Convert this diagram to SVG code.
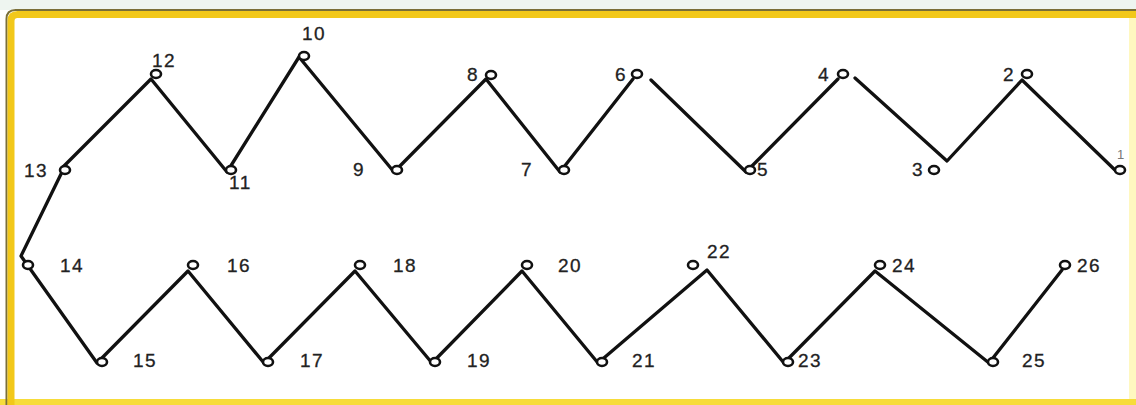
<svg xmlns="http://www.w3.org/2000/svg" width="1136" height="405" viewBox="0 0 1136 405">
<style>
.lbl{font-family:"Liberation Sans",Arial,sans-serif;font-size:19px;fill:#222;letter-spacing:1.5px;stroke:#222;stroke-width:0.3}
.sm{font-size:13px;fill:#777;stroke:none}
.node ellipse{fill:#fff;stroke:#111;stroke-width:2.6}
.edges polyline{stroke:#111;stroke-width:3.3;fill:none;stroke-linecap:round;stroke-linejoin:round}
</style>
<rect x="0" y="0" width="1136" height="405" fill="#ffffff"/>
<rect x="0" y="0" width="1136" height="10" fill="#eef5f0"/>
<rect x="1129" y="18" width="7" height="382" fill="#fff8c0"/>
<rect x="0" y="399" width="1136" height="6" fill="#f7dc3a"/>
<path d="M6.5 405 V19 Q6.5 10 15.5 10 H1136" fill="none" stroke="#7a6f38" stroke-width="2"/>
<path d="M11 405 V21 Q11 14.5 17.5 14.5 H1136" fill="none" stroke="#f2c81a" stroke-width="7"/>
<g class="edges">
<polyline points="62,168 151,79 227,172 299,57 394,172 486,79 560,172 633,79"/>
<polyline points="651,80 746,172 838,79"/>
<polyline points="855,78 947,161 1022,80 1117,172"/>
<polyline points="62,172 21,256 97,363 188,271 264,363 355,271 432,363 522,271 598,363 707,270 784,363 875,271 989,363 1062,270"/>
</g>
<g id="n1" class="node"><ellipse cx="1120" cy="170" rx="5" ry="4"/><text class="lbl sm" x="1117" y="159">1</text></g>
<g id="n2" class="node"><ellipse cx="1027" cy="74" rx="5" ry="4"/><text class="lbl" x="1003" y="81">2</text></g>
<g id="n3" class="node"><ellipse cx="934" cy="170" rx="5" ry="4"/><text class="lbl" x="912" y="176">3</text></g>
<g id="n4" class="node"><ellipse cx="843" cy="74" rx="5" ry="4"/><text class="lbl" x="818" y="81">4</text></g>
<g id="n5" class="node"><ellipse cx="750" cy="170" rx="5" ry="4"/><text class="lbl" x="757" y="176">5</text></g>
<g id="n6" class="node"><ellipse cx="637" cy="74" rx="5" ry="4"/><text class="lbl" x="615" y="81">6</text></g>
<g id="n7" class="node"><ellipse cx="564" cy="170" rx="5" ry="4"/><text class="lbl" x="521" y="176">7</text></g>
<g id="n8" class="node"><ellipse cx="491" cy="75" rx="5" ry="4"/><text class="lbl" x="467" y="81">8</text></g>
<g id="n9" class="node"><ellipse cx="397" cy="170" rx="5" ry="4"/><text class="lbl" x="353" y="176">9</text></g>
<g id="n10" class="node"><ellipse cx="304" cy="56" rx="5" ry="4"/><text class="lbl" x="302" y="40">10</text></g>
<g id="n11" class="node"><ellipse cx="231" cy="170" rx="5" ry="4"/><text class="lbl" x="229" y="189">11</text></g>
<g id="n12" class="node"><ellipse cx="156" cy="74" rx="5" ry="4"/><text class="lbl" x="152" y="67">12</text></g>
<g id="n13" class="node"><ellipse cx="65" cy="170" rx="5" ry="4"/><text class="lbl" x="24" y="177">13</text></g>
<g id="n14" class="node"><ellipse cx="28" cy="265" rx="5" ry="4"/><text class="lbl" x="60" y="272">14</text></g>
<g id="n15" class="node"><ellipse cx="102" cy="362" rx="5" ry="4"/><text class="lbl" x="133" y="367">15</text></g>
<g id="n16" class="node"><ellipse cx="193" cy="265" rx="5" ry="4"/><text class="lbl" x="227" y="272">16</text></g>
<g id="n17" class="node"><ellipse cx="268" cy="362" rx="5" ry="4"/><text class="lbl" x="300" y="367">17</text></g>
<g id="n18" class="node"><ellipse cx="360" cy="265" rx="5" ry="4"/><text class="lbl" x="393" y="272">18</text></g>
<g id="n19" class="node"><ellipse cx="435" cy="362" rx="5" ry="4"/><text class="lbl" x="467" y="367">19</text></g>
<g id="n20" class="node"><ellipse cx="527" cy="265" rx="5" ry="4"/><text class="lbl" x="558" y="272">20</text></g>
<g id="n21" class="node"><ellipse cx="602" cy="362" rx="5" ry="4"/><text class="lbl" x="632" y="367">21</text></g>
<g id="n22" class="node"><ellipse cx="693" cy="265" rx="5" ry="4"/><text class="lbl" x="707" y="258">22</text></g>
<g id="n23" class="node"><ellipse cx="788" cy="362" rx="5" ry="4"/><text class="lbl" x="798" y="367">23</text></g>
<g id="n24" class="node"><ellipse cx="880" cy="265" rx="5" ry="4"/><text class="lbl" x="892" y="272">24</text></g>
<g id="n25" class="node"><ellipse cx="993" cy="362" rx="5" ry="4"/><text class="lbl" x="1022" y="367">25</text></g>
<g id="n26" class="node"><ellipse cx="1065" cy="265" rx="5" ry="4"/><text class="lbl" x="1077" y="272">26</text></g>
</svg>
